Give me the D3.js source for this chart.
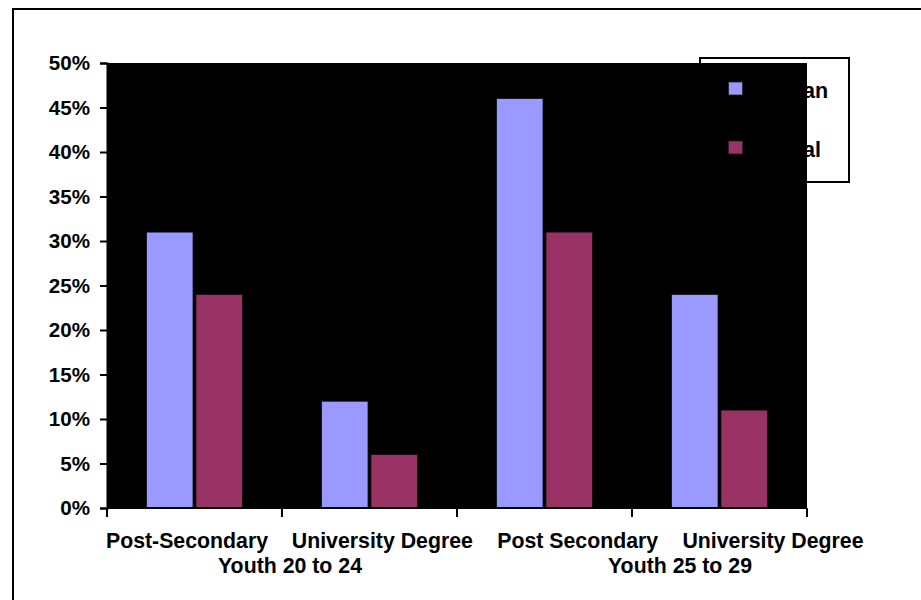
<!DOCTYPE html>
<html><head><meta charset="utf-8">
<script src="https://cdn.jsdelivr.net/npm/d3@7"></script>
<style>body{margin:0;background:#fff}svg{display:block}text{font-family:Arial,"Liberation Sans",sans-serif;font-weight:bold}</style>
</head><body><svg id="c" width="921" height="600"></svg>
<script>
const categories = ["Post-Secondary","University Degree","Post Secondary","University Degree"];
const groups = ["Youth 20 to 24","Youth 25 to 29"];
const seriesNames = ["Urban","Rural"];
const urban = [31,12,46,24];
const rural = [24,6,31,11];
const yTicks = [0,5,10,15,20,25,30,35,40,45,50];
const colors = ["#9999FF","#993366"];

const svg = d3.select("#c");
const L=107,R=807,T=63,B=508;
// outer border
svg.append("rect").attr("x",13).attr("y",9).attr("width",940).attr("height",620)
  .attr("fill","none").attr("stroke","#000").attr("stroke-width",2);
// legend box (under plot)
svg.append("rect").attr("x",700).attr("y",58).attr("width",149).attr("height",124)
  .attr("fill","#fff").attr("stroke","#000").attr("stroke-width",2);

const x = d3.scaleBand().domain(d3.range(categories.length)).range([L,R]).paddingInner(0).paddingOuter(0);
const xs = d3.scaleBand().domain(seriesNames).range([0,x.bandwidth()]).paddingInner(0.06).paddingOuter(0.8);
const y = d3.scaleLinear().domain([0,50]).range([B,T]);

svg.append("rect").attr("x",L).attr("y",T).attr("width",R-L).attr("height",B-T).attr("fill","#000");

const data = categories.map((c,i)=>({i, vals:[urban[i],rural[i]]}));
const g = svg.append("g");
data.forEach(d=>{
  d.vals.forEach((v,j)=>{
    g.append("rect").attr("x",x(d.i)+xs(seriesNames[j])).attr("y",y(v))
     .attr("width",xs.bandwidth()).attr("height",y(0)-y(v))
     .attr("fill",colors[j]).attr("stroke","#111").attr("stroke-width",0.8);
  });
});

// y axis
const ya = svg.append("g").attr("transform",`translate(${L},0)`)
  .call(d3.axisLeft(y).tickValues(yTicks).tickFormat(d=>d+"%").tickSize(7).tickPadding(10));
ya.select(".domain").attr("stroke","#000").attr("stroke-width",2);
ya.selectAll(".tick line").attr("stroke","#000").attr("stroke-width",2);
ya.selectAll("text").attr("font-size",20.6).attr("fill","#000").attr("font-family","Arial, 'Liberation Sans', sans-serif").attr("font-weight","bold");

// x axis line and ticks
const xa = svg.append("g").attr("transform",`translate(0,${B})`);
xa.append("line").attr("x1",L).attr("x2",R).attr("stroke","#000").attr("stroke-width",2);
const tickPos = d3.range(categories.length+1).map(i=> i<categories.length ? x(i) : R);
xa.selectAll("line.t").data(tickPos).join("line").attr("class","t")
  .attr("x1",d=>d).attr("x2",d=>d).attr("y1",0).attr("y2",9).attr("stroke","#000").attr("stroke-width",2);

// category labels (spread as in source)
const xl = d3.scalePoint().domain(d3.range(categories.length)).range([187,773]);
svg.selectAll("text.cat").data(categories).join("text").attr("class","cat")
  .attr("x",(d,i)=>xl(i)).attr("y",548).attr("text-anchor","middle").attr("font-size",21.3).text(d=>d);
const gl = d3.scalePoint().domain(d3.range(groups.length)).range([290,680]);
svg.selectAll("text.grp").data(groups).join("text").attr("class","grp")
  .attr("x",(d,i)=>gl(i)).attr("y",573).attr("text-anchor","middle").attr("font-size",21.3).text(d=>d);

// legend items
const ly = d3.scalePoint().domain(seriesNames).range([88.5,147.5]);
seriesNames.forEach((s,j)=>{
  svg.append("rect").attr("x",728.5).attr("y",ly(s)-6.5).attr("width",14).attr("height",13)
    .attr("fill",colors[j]).attr("stroke","#222").attr("stroke-width",0.8);
  svg.append("text").attr("x",766).attr("y",ly(s)+9).attr("font-size",21.5).attr("fill","#000").text(s);
});
</script></body></html>
